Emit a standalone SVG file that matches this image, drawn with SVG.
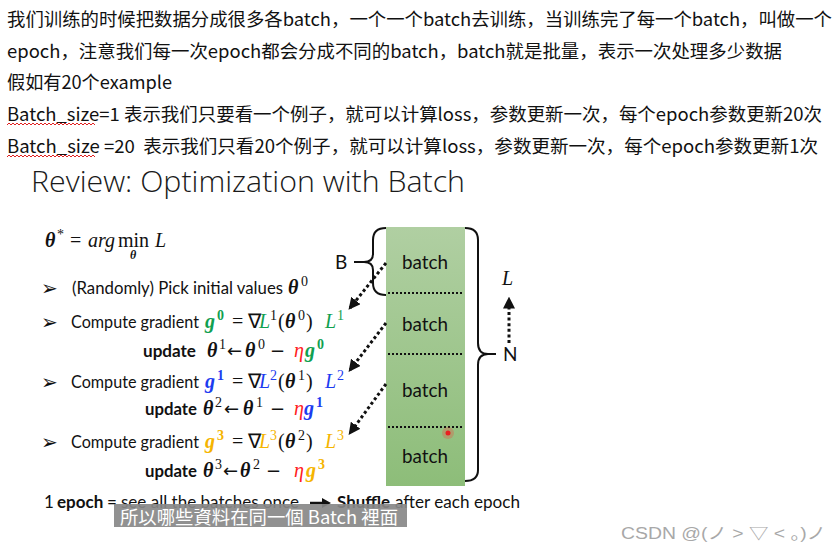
<svg xmlns="http://www.w3.org/2000/svg" width="837" height="553" viewBox="0 0 837 553">
<style>
.cn{font-family:"Noto Sans CJK SC","Noto Sans",sans-serif;font-size:18px;fill:#111}
.sl{font-family:Lato,"Open Sans",sans-serif;font-size:17px;fill:#111}
.b{font-weight:bold}
.m{font-family:"Liberation Serif",serif;font-size:20px;fill:#111}
.bi{font-weight:bold;font-style:italic}
.it{font-style:italic}
.sup{font-size:14px}
.sub{font-size:12px}
.ar{font-family:"DejaVu Sans",sans-serif;font-size:18px}
.g{fill:#10a050}.bl{fill:#1c3cf0}.o{fill:#f5b400}.r{fill:#ff2020}
.bul{font-family:"DejaVu Sans",sans-serif;font-size:20px;fill:#111}
.bt{font-family:Lato,"Open Sans",sans-serif;font-size:20px;fill:#111;text-anchor:middle}
.dot{stroke:#111;stroke-width:3;stroke-dasharray:3 2.6;fill:none}
.hd{stroke:#111;stroke-width:2;stroke-dasharray:2 2;fill:none}
.br{stroke:#111;stroke-width:2;fill:none}
.wv{stroke:#e02020;stroke-width:1;fill:none}
</style>
<defs>
<linearGradient id="gr" x1="0" y1="0" x2="0" y2="1">
<stop offset="0" stop-color="#b0cfa2"/>
<stop offset="1" stop-color="#8dbd79"/>
</linearGradient>
<marker id="ah" viewBox="0 0 10 10" refX="8" refY="5" markerWidth="4" markerHeight="4" orient="auto" markerUnits="strokeWidth">
<path d="M0,0 L10,5 L0,10 z" fill="#111"/>
</marker>
</defs>
<rect width="837" height="553" fill="#fff"/>

<g id="notes">
<text class="cn" x="7" y="26" textLength="825" lengthAdjust="spacingAndGlyphs">我们训练的时候把数据分成很多各batch，一个一个batch去训练，当训练完了每一个batch，叫做一个</text>
<text class="cn" x="7" y="58" textLength="775" lengthAdjust="spacingAndGlyphs">epoch，注意我们每一次epoch都会分成不同的batch，batch就是批量，表示一次处理多少数据</text>
<text class="cn" x="7" y="89" textLength="165" lengthAdjust="spacingAndGlyphs">假如有20个example</text>
<text class="cn" x="7" y="121" textLength="815" lengthAdjust="spacingAndGlyphs">Batch_size=1 表示我们只要看一个例子，就可以计算loss，参数更新一次，每个epoch参数更新20次</text>
<text class="cn" x="7" y="153" textLength="811" lengthAdjust="spacingAndGlyphs" xml:space="preserve">Batch_size =20  表示我们只看20个例子，就可以计算loss，参数更新一次，每个epoch参数更新1次</text>
<path class="wv" d="M7,125 l2,-2 l2,2 l2,-2 l2,2 l2,-2 l2,2 l2,-2 l2,2 l2,-2 l2,2 l2,-2 l2,2 l2,-2 l2,2 l2,-2 l2,2 l2,-2 l2,2 l2,-2 l2,2 l2,-2 l2,2 l2,-2 l2,2 l2,-2 l2,2 l2,-2 l2,2 l2,-2 l2,2 l2,-2 l2,2 l2,-2 l2,2 l2,-2 l2,2 l2,-2 l2,2 l2,-2 l2,2 l2,-2 l2,2 l2,-2 l2,2"/>
<path class="wv" d="M7,157 l2,-2 l2,2 l2,-2 l2,2 l2,-2 l2,2 l2,-2 l2,2 l2,-2 l2,2 l2,-2 l2,2 l2,-2 l2,2 l2,-2 l2,2 l2,-2 l2,2 l2,-2 l2,2 l2,-2 l2,2 l2,-2 l2,2 l2,-2 l2,2 l2,-2 l2,2 l2,-2 l2,2 l2,-2 l2,2 l2,-2 l2,2 l2,-2 l2,2 l2,-2 l2,2 l2,-2 l2,2 l2,-2 l2,2 l2,-2 l2,2"/>
</g>

<g id="title">
<text x="31" y="192" font-family="'Open Sans',Lato,sans-serif" font-weight="300" font-size="29" fill="#1a1a1a" textLength="434" lengthAdjust="spacingAndGlyphs">Review: Optimization with Batch</text>
</g>

<g id="objective">
<text class="m" y="247"><tspan class="bi" x="45">θ</tspan><tspan class="sup" x="57" dy="-8">*</tspan><tspan x="70" dy="8">=</tspan><tspan class="it" x="88">arg</tspan><tspan x="118">min</tspan><tspan class="it" x="155">L</tspan></text>
<text class="m bi sub" x="130" y="259">θ</text>
</g>

<g id="pick">
<text class="bul" x="41" y="295">➢</text>
<text class="sl" x="72" y="294" textLength="211" lengthAdjust="spacingAndGlyphs">(Randomly) Pick initial values</text>
<text class="m" y="294"><tspan class="bi" x="288">θ</tspan><tspan class="sup" x="301" dy="-8">0</tspan></text>
</g>

<g id="step1">
<text class="bul" x="41" y="329">➢</text>
<text class="sl" x="71" y="328" textLength="128" lengthAdjust="spacingAndGlyphs">Compute gradient</text>
<text class="m" y="328"><tspan class="bi g" x="205">g</tspan><tspan class="sup b g" x="217" dy="-8">0</tspan><tspan x="232" dy="8">=</tspan><tspan x="248">∇</tspan><tspan class="it g" x="259">L</tspan><tspan class="sup" x="270" dy="-8">1</tspan><tspan x="278" dy="8">(</tspan><tspan class="bi" x="285">θ</tspan><tspan class="sup" x="298" dy="-8">0</tspan><tspan x="306" dy="8">)</tspan><tspan class="it g" x="325">L</tspan><tspan class="sup g" x="337" dy="-8">1</tspan></text>
<text class="sl b" x="143" y="357" textLength="53" lengthAdjust="spacingAndGlyphs">update</text>
<text class="m" y="357"><tspan class="bi" x="207">θ</tspan><tspan class="sup" x="219" dy="-8">1</tspan><tspan class="ar" x="227" dy="8">←</tspan><tspan class="bi" x="245">θ</tspan><tspan class="sup" x="258" dy="-8">0</tspan><tspan class="ar" x="270" dy="8">−</tspan><tspan class="it r" x="294">η</tspan><tspan class="bi g" x="305">g</tspan><tspan class="sup b g" x="317" dy="-8">0</tspan></text>
</g>

<g id="step2">
<text class="bul" x="41" y="389">➢</text>
<text class="sl" x="71" y="388" textLength="128" lengthAdjust="spacingAndGlyphs">Compute gradient</text>
<text class="m" y="388"><tspan class="bi bl" x="205">g</tspan><tspan class="sup b bl" x="217" dy="-8">1</tspan><tspan x="232" dy="8">=</tspan><tspan x="248">∇</tspan><tspan class="it bl" x="259">L</tspan><tspan class="sup bl" x="270" dy="-8">2</tspan><tspan x="278" dy="8">(</tspan><tspan class="bi" x="285">θ</tspan><tspan class="sup" x="298" dy="-8">1</tspan><tspan x="306" dy="8">)</tspan><tspan class="it bl" x="325">L</tspan><tspan class="sup bl" x="337" dy="-8">2</tspan></text>
<text class="sl b" x="145" y="415" textLength="52" lengthAdjust="spacingAndGlyphs">update</text>
<text class="m" y="415"><tspan class="bi" x="203">θ</tspan><tspan class="sup" x="215" dy="-8">2</tspan><tspan class="ar" x="224" dy="8">←</tspan><tspan class="bi" x="243">θ</tspan><tspan class="sup" x="256" dy="-8">1</tspan><tspan class="ar" x="270" dy="8">−</tspan><tspan class="it r" x="294">η</tspan><tspan class="bi bl" x="304">g</tspan><tspan class="sup b bl" x="316" dy="-8">1</tspan></text>
</g>

<g id="step3">
<text class="bul" x="41" y="449">➢</text>
<text class="sl" x="71" y="448" textLength="128" lengthAdjust="spacingAndGlyphs">Compute gradient</text>
<text class="m" y="448"><tspan class="bi o" x="205">g</tspan><tspan class="sup b o" x="217" dy="-8">3</tspan><tspan x="232" dy="8">=</tspan><tspan x="248">∇</tspan><tspan class="it o" x="259">L</tspan><tspan class="sup o" x="270" dy="-8">3</tspan><tspan x="278" dy="8">(</tspan><tspan class="bi" x="285">θ</tspan><tspan class="sup" x="298" dy="-8">2</tspan><tspan x="306" dy="8">)</tspan><tspan class="it o" x="325">L</tspan><tspan class="sup o" x="337" dy="-8">3</tspan></text>
<text class="sl b" x="145" y="477" textLength="52" lengthAdjust="spacingAndGlyphs">update</text>
<text class="m" y="477"><tspan class="bi" x="203">θ</tspan><tspan class="sup" x="215" dy="-8">3</tspan><tspan class="ar" x="223" dy="8">←</tspan><tspan class="bi" x="240">θ</tspan><tspan class="sup" x="253" dy="-8">2</tspan><tspan class="ar" x="266" dy="8">−</tspan><tspan class="it r" x="294">η</tspan><tspan class="bi o" x="306">g</tspan><tspan class="sup b o" x="318" dy="-8">3</tspan></text>
</g>

<g id="batches">
<rect x="386" y="227" width="79" height="259" fill="url(#gr)"/>
<line class="hd" x1="388" y1="293" x2="463" y2="293"/>
<line class="hd" x1="388" y1="354" x2="463" y2="354"/>
<line class="hd" x1="388" y1="427" x2="463" y2="427"/>
<text class="bt" x="425" y="269" textLength="46" lengthAdjust="spacingAndGlyphs">batch</text>
<text class="bt" x="425" y="331" textLength="46" lengthAdjust="spacingAndGlyphs">batch</text>
<text class="bt" x="425" y="397" textLength="46" lengthAdjust="spacingAndGlyphs">batch</text>
<text class="bt" x="425" y="463" textLength="46" lengthAdjust="spacingAndGlyphs">batch</text>
<circle cx="448" cy="433" r="6" fill="#ff3030" opacity="0.25"/>
<circle cx="448" cy="433" r="2.5" fill="#e82020"/>
</g>

<g id="brace-B">
<path class="br" d="M386,228 Q373,228 373,240 L373,254 Q373,262 364,262 Q373,262 373,270 L373,283 Q373,295 386,295"/>
<line class="br" x1="354" y1="262" x2="364" y2="262"/>
<text x="335" y="269" font-family="Lato,'Open Sans',sans-serif" font-size="19" fill="#111">B</text>
</g>

<g id="brace-N">
<path class="br" d="M465,228 Q478,228 478,240 L478,343 Q478,354 488,354 Q478,354 478,365 L478,470 Q478,481 465,481"/>
<line class="br" x1="486" y1="354" x2="496" y2="354"/>
<text x="503" y="361" font-family="Lato,'Open Sans',sans-serif" font-size="19" fill="#111">N</text>
<text x="502" y="285" font-family="'Liberation Serif',serif" font-style="italic" font-size="20" fill="#111">L</text>
</g>

<g id="connectors">
<line class="dot" x1="386" y1="263" x2="350" y2="308" marker-end="url(#ah)"/>
<line class="dot" x1="386" y1="323" x2="350" y2="370" marker-end="url(#ah)"/>
<line class="dot" x1="386" y1="384" x2="350" y2="433" marker-end="url(#ah)"/>
<line class="dot" x1="509" y1="343" x2="509" y2="299" marker-end="url(#ah)"/>
</g>

<g id="footer">
<text class="sl" y="508"><tspan x="44">1</tspan><tspan class="b" x="57">epoch</tspan><tspan x="107">=</tspan></text>
<text class="sl" x="121" y="508" textLength="178" lengthAdjust="spacingAndGlyphs">see all the batches once</text>
<line x1="310" y1="503" x2="323" y2="503" stroke="#111" stroke-width="2.5"/>
<path d="M322,498 L331,503 L322,508 z" fill="#111"/>
<text class="sl b" x="337" y="508" textLength="53" lengthAdjust="spacingAndGlyphs">Shuffle</text>
<text class="sl" x="395" y="508" textLength="125" lengthAdjust="spacingAndGlyphs">after each epoch</text>
</g>

<g id="subtitle">
<rect x="114" y="504" width="293" height="23" fill="#888" opacity="0.92"/>
<text x="120" y="524" font-family="'Noto Sans CJK TC','Noto Sans CJK SC',sans-serif" font-size="18" fill="#fff" textLength="278" lengthAdjust="spacingAndGlyphs">所以哪些資料在同一個 Batch 裡面</text>
</g>

<g id="watermark">
<text x="621" y="539" font-family="'Liberation Sans','Noto Sans CJK SC',sans-serif" font-size="16" fill="#a8a8a8" textLength="205" lengthAdjust="spacingAndGlyphs">CSDN @(ノ &gt; ▽ &lt; 。)ノ</text>
</g>
</svg>
